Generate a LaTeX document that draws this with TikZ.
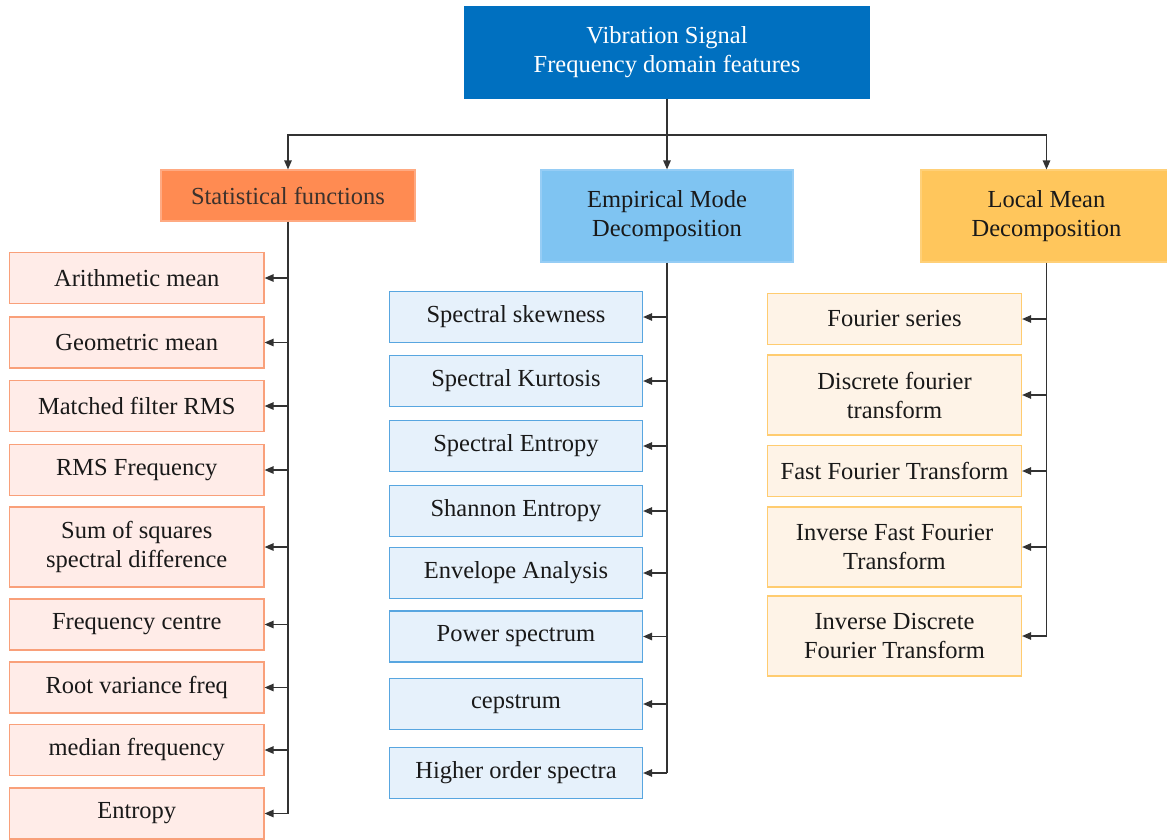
\documentclass[tikz,border=0pt]{standalone}
\usepackage{fontspec}
\setmainfont{Liberation Serif}
\usetikzlibrary{arrows.meta}

\definecolor{topblue}{RGB}{0,112,192}
\definecolor{statfill}{RGB}{255,139,82}
\definecolor{statline}{RGB}{255,170,130}
\definecolor{emdfill}{RGB}{127,196,242}
\definecolor{emdline}{RGB}{150,205,245}
\definecolor{lmdfill}{RGB}{255,198,92}
\definecolor{lmdline}{RGB}{255,208,120}
\definecolor{pinkfill}{RGB}{255,236,232}
\definecolor{pinkline}{RGB}{249,160,122}
\definecolor{bluefill}{RGB}{230,241,251}
\definecolor{blueline}{RGB}{88,166,224}
\definecolor{peachfill}{RGB}{254,243,231}
\definecolor{peachline}{RGB}{255,204,112}
\definecolor{ink}{RGB}{25,25,25}
\definecolor{wire}{RGB}{50,50,50}

\tikzset{
  box/.style={rectangle, inner sep=0pt, align=center, line width=1.2pt,
    font=\rmfamily\fontsize{24.5}{29}\selectfont, text=ink, minimum height=51pt},
  headbox/.style={box, minimum height=92pt},
  pinkbox/.style={box, fill=pinkfill, draw=pinkline, minimum width=254.5pt},
  bluebox/.style={box, fill=bluefill, draw=blueline, minimum width=253pt},
  peachbox/.style={box, fill=peachfill, draw=peachline, minimum width=254pt},
  tall/.style={minimum height=80pt},
  wireline/.style={draw=wire, line width=1.3pt},
  arr/.style={wireline, -{Triangle[length=9pt,width=7.5pt]}},
}

\begin{document}
\begin{tikzpicture}[x=1pt, y=-1pt]
  \useasboundingbox (0,0) rectangle (1167,839);

  % root and the three method headers
  \node[box, fill=topblue, draw=topblue, text=white, minimum width=405pt, minimum height=91pt]
    (root) at (667,52.5) {Vibration Signal\\Frequency domain features};
  \node[box, fill=statfill, draw=statline, text={rgb,255:red,60;green,50;blue,45}, minimum width=254pt]
    (stat) at (288,195.5) {Statistical functions};
  \node[headbox, fill=emdfill, draw=emdline, minimum width=252pt]
    (emd) at (667,216) {Empirical Mode\\Decomposition};
  \node[headbox, fill=lmdfill, draw=lmdline, minimum width=251pt]
    (lmd) at (1046.5,216) {Local Mean\\Decomposition};

  \coordinate (bus) at (667,135);
  \draw[wireline] (root.south) -- (bus);
  \draw[arr] (bus) -| (stat.north);
  \draw[arr] (bus) -- (emd.north);
  \draw[arr] (bus) -| (lmd.north);

  % statistical functions
  \node[pinkbox] (l1) at (136.75,278) {Arithmetic mean};
  \node[pinkbox] (l2) at (136.75,342.5) {Geometric mean};
  \node[pinkbox] (l3) at (136.75,406) {Matched filter RMS};
  \node[pinkbox] (l4) at (136.75,470) {RMS Frequency};
  \node[pinkbox, tall] (l5) at (136.75,547) {Sum of squares\\spectral difference};
  \node[pinkbox] (l6) at (136.75,624.5) {Frequency centre};
  \node[pinkbox] (l7) at (136.75,687.5) {Root variance freq};
  \node[pinkbox] (l8) at (136.75,750) {median frequency};
  \node[pinkbox] (l9) at (136.75,813.5) {Entropy};

  \draw[wireline] (stat.south) -- (stat.south |- l9.east);
  \foreach \n in {l1,l2,l3,l4,l5,l6,l7,l8,l9}
    \draw[arr] (stat.south |- \n.east) -- (\n.east);

  % empirical mode decomposition
  \node[bluebox] (m1) at (516,317) {Spectral skewness};
  \node[bluebox] (m2) at (516,381) {Spectral Kurtosis};
  \node[bluebox] (m3) at (516,446) {Spectral Entropy};
  \node[bluebox] (m4) at (516,511) {Shannon Entropy};
  \node[bluebox] (m5) at (516,573) {Envelope Analysis};
  \node[bluebox] (m6) at (516,636.5) {Power spectrum};
  \node[bluebox] (m7) at (516,704) {cepstrum};
  \node[bluebox] (m8) at (516,773) {Higher order spectra};

  \draw[wireline] (emd.south) -- (emd.south |- m8.east);
  \foreach \n in {m1,m2,m3,m4,m5,m6,m7,m8}
    \draw[arr] (emd.south |- \n.east) -- (\n.east);

  % local mean decomposition
  \node[peachbox] (r1) at (894.5,319) {Fourier series};
  \node[peachbox, tall] (r2) at (894.5,395) {Discrete fourier\\transform};
  \node[peachbox] (r3) at (894.5,471) {Fast Fourier Transform};
  \node[peachbox, tall] (r4) at (894.5,547) {Inverse Fast Fourier\\Transform};
  \node[peachbox, tall] (r5) at (894.5,636) {Inverse Discrete\\Fourier Transform};

  \draw[wireline] (lmd.south) -- (lmd.south |- r5.east);
  \foreach \n in {r1,r2,r3,r4,r5}
    \draw[arr] (lmd.south |- \n.east) -- (\n.east);
\end{tikzpicture}
\end{document}
